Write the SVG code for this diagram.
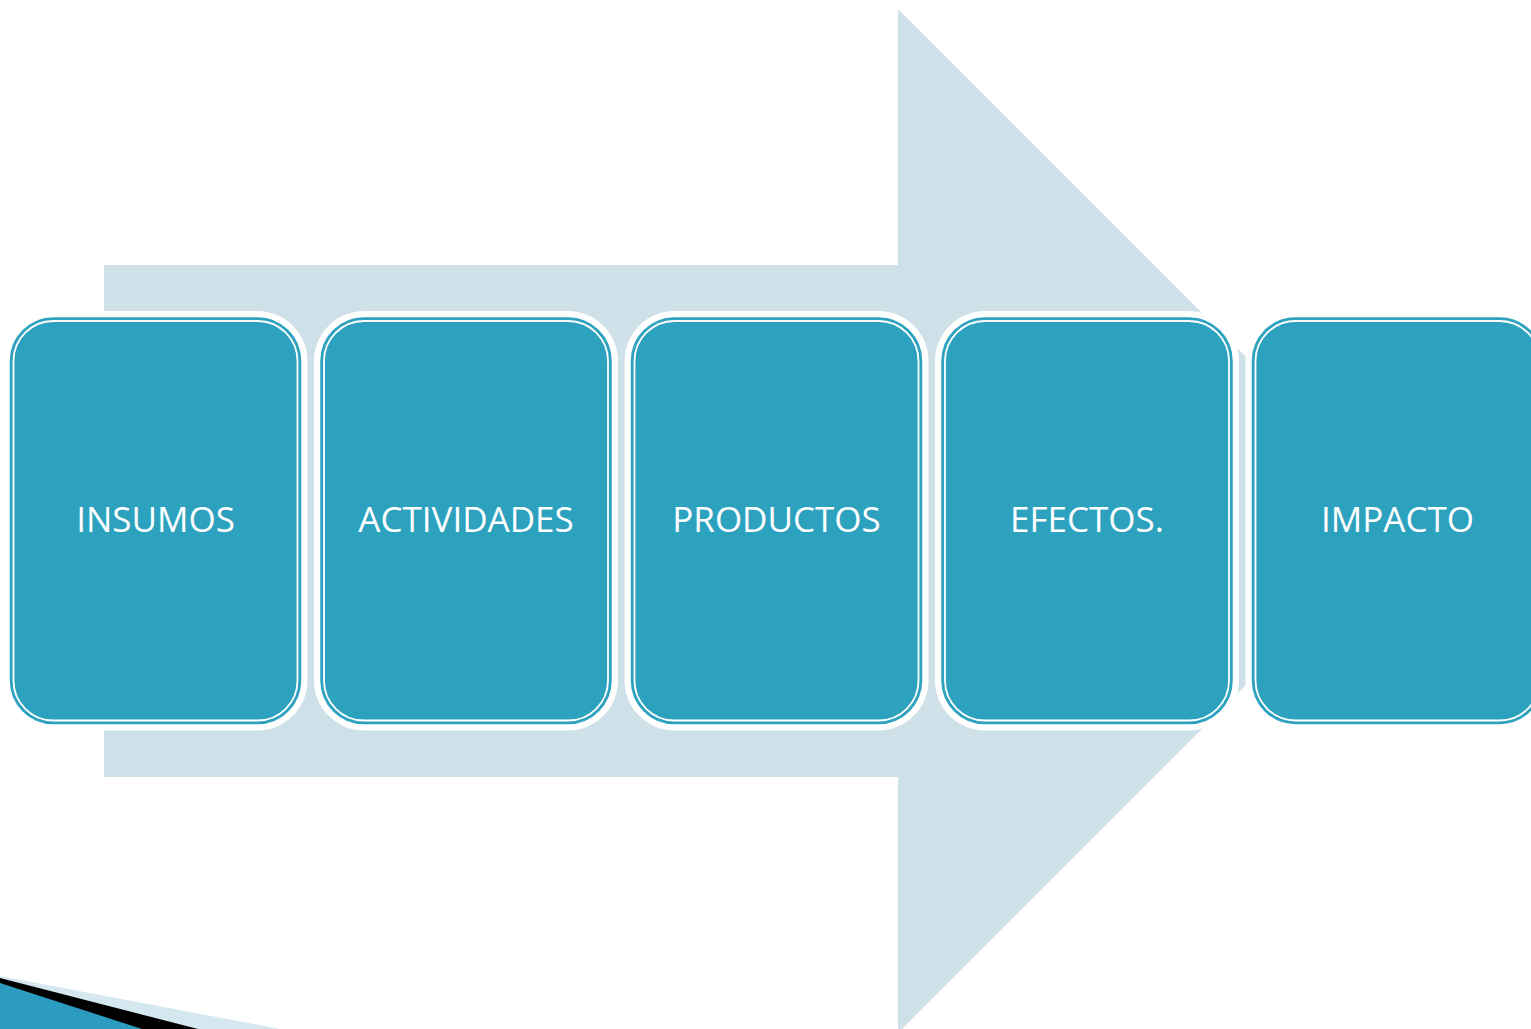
<svg xmlns="http://www.w3.org/2000/svg" width="1531" height="1029" viewBox="0 0 1531 1029">
<style>
.halo{fill:#ffffff}
.box{fill:#2DA2BF;stroke:#2DA2BF;stroke-width:1.5}
.inner{fill:none;stroke:#ffffff;stroke-width:1.8}
.lbl{font-family:"Open Sans","Noto Sans","DejaVu Sans",sans-serif;font-size:35px;fill:#ffffff;text-anchor:middle}
</style>
<rect width="1531" height="1029" fill="#ffffff"/>
<g id="deco">
<polygon points="0,976 280,1029 0,1029" fill="#D5E8F0"/>
<polygon points="0,978 198,1029 0,1029" fill="#000000"/>
<polygon points="0,983 142,1029 0,1029" fill="#2B9CC0"/>
</g>
<g id="connectors">
<polygon id="arrow" points="104,265 898,265 898,9 1410,521 898,1033 898,777 104,777" fill="#CEE0E8"/>
</g>
<g id="n1">
<rect class="halo" x="3.5" y="311" width="304" height="419.5" rx="50"/>
<rect class="box" x="10.5" y="318" width="290" height="405.5" rx="43"/>
<rect class="inner" x="13.5" y="321" width="284" height="399.5" rx="40"/>
<text class="lbl" x="155.5" y="532">INSUMOS</text>
</g>
<g id="n2">
<rect class="halo" x="314" y="311" width="304" height="419.5" rx="50"/>
<rect class="box" x="321" y="318" width="290" height="405.5" rx="43"/>
<rect class="inner" x="324" y="321" width="284" height="399.5" rx="40"/>
<text class="lbl" x="466" y="532">ACTIVIDADES</text>
</g>
<g id="n3">
<rect class="halo" x="624.5" y="311" width="304" height="419.5" rx="50"/>
<rect class="box" x="631.5" y="318" width="290" height="405.5" rx="43"/>
<rect class="inner" x="634.5" y="321" width="284" height="399.5" rx="40"/>
<text class="lbl" x="776.5" y="532">PRODUCTOS</text>
</g>
<g id="n4">
<rect class="halo" x="935" y="311" width="304" height="419.5" rx="50"/>
<rect class="box" x="942" y="318" width="290" height="405.5" rx="43"/>
<rect class="inner" x="945" y="321" width="284" height="399.5" rx="40"/>
<text class="lbl" x="1087" y="532">EFECTOS.</text>
</g>
<g id="n5">
<rect class="halo" x="1245.5" y="311" width="304" height="419.5" rx="50"/>
<rect class="box" x="1252.5" y="318" width="290" height="405.5" rx="43"/>
<rect class="inner" x="1255.5" y="321" width="284" height="399.5" rx="40"/>
<text class="lbl" x="1397.5" y="532">IMPACTO</text>
</g>
</svg>
